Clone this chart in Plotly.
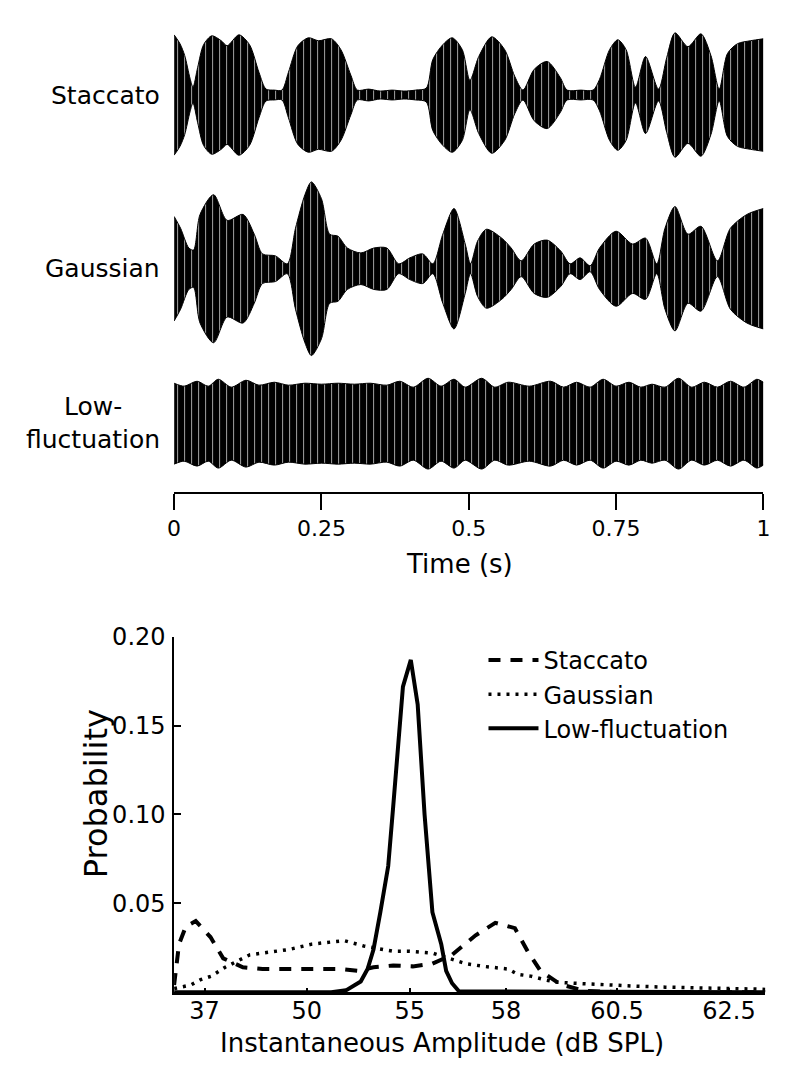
import plotly.graph_objects as go

# page is 800x1085; default body margin is 8px, so the figure is 784x1069
PAGE_W, PAGE_H = 800, 1085
FW, FH = PAGE_W - 16, PAGE_H - 16

# ---------------- Top panel: envelopes (arbitrary amplitude units)
st_t = [0.000, 0.010, 0.018, 0.027, 0.032, 0.040, 0.050, 0.064, 0.080, 0.090, 0.110, 0.128, 0.144, 0.156,
        0.170, 0.183, 0.194, 0.210, 0.228, 0.245, 0.267, 0.283, 0.300, 0.311, 0.330, 0.350, 0.370, 0.390,
        0.410, 0.428, 0.439, 0.456, 0.472, 0.489, 0.502, 0.517, 0.539, 0.561, 0.578, 0.592, 0.611, 0.633,
        0.655, 0.667, 0.690, 0.711, 0.722, 0.739, 0.753, 0.767, 0.783, 0.800, 0.822, 0.836, 0.850, 0.872,
        0.894, 0.911, 0.925, 0.939, 0.956, 0.978, 1.000]
st_a = [61, 52, 40, 17, 8, 28, 51, 60, 55, 50, 61, 51, 23, 6,
        5, 5, 23, 50, 58, 55, 57, 46, 20, 5, 6, 4, 5, 4,
        5, 7, 36, 51, 58, 46, 15, 39, 59, 46, 19, 5, 26, 34,
        18, 5, 5, 5, 16, 46, 56, 46, 8, 39, 6, 38, 63, 49,
        62, 40, 6, 42, 52, 55, 57]

ga_t = [0.000, 0.011, 0.025, 0.033, 0.044, 0.067, 0.090, 0.117, 0.136, 0.150, 0.172, 0.192, 0.206, 0.222,
        0.233, 0.250, 0.264, 0.278, 0.294, 0.317, 0.339, 0.361, 0.381, 0.400, 0.422, 0.439, 0.456, 0.475,
        0.494, 0.503, 0.515, 0.530, 0.556, 0.572, 0.589, 0.611, 0.633, 0.656, 0.672, 0.689, 0.706, 0.722,
        0.750, 0.778, 0.800, 0.819, 0.833, 0.850, 0.872, 0.894, 0.922, 0.944, 0.972, 1.000]
ga_a = [53, 41, 21, 19, 55, 75, 49, 55, 35, 15, 13, 5, 41, 75,
        88, 71, 35, 33, 21, 16, 21, 21, 5, 11, 15, 5, 35, 61,
        25, 5, 28, 40, 31, 21, 8, 25, 29, 18, 5, 11, 3, 21,
        38, 25, 31, 5, 41, 63, 35, 43, 8, 41, 55, 61]

lf_t = [0.000, 0.017, 0.039, 0.058, 0.075, 0.097, 0.122, 0.144, 0.170, 0.194, 0.222, 0.250, 0.278, 0.306,
        0.333, 0.361, 0.383, 0.406, 0.431, 0.453, 0.475, 0.494, 0.522, 0.544, 0.567, 0.603, 0.639, 0.661,
        0.683, 0.706, 0.728, 0.750, 0.772, 0.792, 0.811, 0.833, 0.856, 0.878, 0.900, 0.922, 0.944, 0.967,
        0.989, 1.000]
lf_a = [41, 38, 43, 38, 45, 37, 44, 39, 42, 39, 41, 40, 41, 40,
        41, 39, 43, 37, 46, 38, 45, 37, 46, 37, 42, 38, 43, 37,
        42, 37, 45, 38, 42, 37, 40, 37, 46, 37, 42, 37, 43, 37,
        45, 42]

wave_names = ["Staccato", "Gaussian", "Low-<br>fluctuation"]
time_ticks = [0, 0.25, 0.5, 0.75, 1]
time_labels = ["0", "0.25", "0.5", "0.75", "1"]

# ---------------- Bottom panel: amplitude distributions (x in bin-position units)
amp_tick_pos = [3.1, 13.5, 24.0, 33.8, 45.1, 56.5]
amp_tick_labels = ["37", "50", "55", "58", "60.5", "62.5"]
prob_ticks = [0.05, 0.10, 0.15, 0.20]
prob_labels = ["0.05", "0.10", "0.15", "0.20"]

stac_x = [0, 0.5, 1.2, 2.2, 3.7, 5.0, 7.0, 9.0, 13.0, 17.0, 18.7, 20.3, 22.3, 24.3, 26.3, 28.3,
          30.7, 32.7, 34.7, 36.0, 37.3, 39.3, 41.7, 45.0, 60.2]
stac_p = [0.004, 0.027, 0.037, 0.040, 0.031, 0.019, 0.014, 0.013, 0.013, 0.013, 0.012, 0.014, 0.015,
          0.0145, 0.016, 0.021, 0.032, 0.039, 0.036, 0.023, 0.012, 0.0045, 0.0008, 0.0, 0.0]

gaus_x = [0, 0.7, 1.7, 2.7, 3.8, 5.2, 7.7, 11.7, 14.0, 17.3, 19.3, 22.3, 24.0, 26.3, 29.7, 31.5, 34.0,
          35.0, 36.3, 37.7, 39.0, 40.7, 42.7, 45.0, 47.3, 50.0, 53.3, 56.7, 59.3, 60.2]
gaus_p = [0.002, 0.003, 0.004, 0.007, 0.009, 0.014, 0.021, 0.024, 0.027, 0.029, 0.026, 0.023, 0.023,
          0.022, 0.016, 0.0145, 0.013, 0.010, 0.009, 0.007, 0.0056, 0.005, 0.0044, 0.0039, 0.0033,
          0.0028, 0.0022, 0.002, 0.0017, 0.0015]

lowf_x = [0, 16.0, 17.5, 19.0, 19.7, 20.3, 21.0, 21.8, 22.3, 23.3, 24.1, 24.8, 25.5, 26.3, 27.2,
          27.7, 28.3, 29.0, 60.2]
lowf_p = [0, 0, 0.001, 0.006, 0.013, 0.024, 0.045, 0.071, 0.104, 0.172, 0.187, 0.162, 0.100, 0.045,
          0.027, 0.012, 0.005, 0.0005, 0]

FONT = "DejaVu Sans"


def px_x(x):
    return (x - 8) / FW


def px_y(y):
    return 1 - (y - 8) / FH


fig = go.Figure()

waves = [(st_t, st_a, "x", "y"), (ga_t, ga_a, "x2", "y2"), (lf_t, lf_a, "x3", "y3")]
for t, a, xa, ya in waves:
    edge = dict(color="black", width=1, shape="spline", smoothing=0.8)
    fig.add_trace(go.Scatter(x=t, y=[-v for v in a], mode="lines", line=edge,
                             xaxis=xa, yaxis=ya, showlegend=False, hoverinfo="skip"))
    fig.add_trace(go.Scatter(x=t, y=a, mode="lines", line=edge, fill="tonexty",
                             fillcolor="black",
                             fillpattern=dict(shape="|", fgcolor="#d4d4d4", bgcolor="black",
                                              size=7, solidity=0.11, fillmode="replace"),
                             xaxis=xa, yaxis=ya, showlegend=False, hoverinfo="skip"))

fig.add_trace(go.Scatter(x=stac_x, y=stac_p, mode="lines", name="Staccato",
                         line=dict(color="black", width=4, dash="12px,10px"),
                         xaxis="x4", yaxis="y4"))
fig.add_trace(go.Scatter(x=gaus_x, y=gaus_p, mode="lines", name="Gaussian",
                         line=dict(color="black", width=3.5, dash="3px,6px"),
                         xaxis="x4", yaxis="y4"))
fig.add_trace(go.Scatter(x=lowf_x, y=lowf_p, mode="lines", name="Low-fluctuation",
                         line=dict(color="black", width=4),
                         xaxis="x4", yaxis="y4"))

top_dom = [px_x(170), px_x(770)]
hidden = dict(visible=False, showgrid=False, zeroline=False)

annotations = []
for name, yc in zip(wave_names, [82, 258, 414]):
    annotations.append(dict(text=name, x=px_x(158), y=px_y(yc), xref="paper", yref="paper",
                            xanchor="right", yanchor="middle", align="center", showarrow=False,
                            font=dict(family=FONT, size=25, color="black")))
annotations.append(dict(text="Time (s)", x=px_x(461), y=px_y(557), xref="paper", yref="paper",
                        xanchor="center", yanchor="middle", showarrow=False,
                        font=dict(family=FONT, size=26, color="black")))
annotations.append(dict(text="Probability", x=px_x(90), y=px_y(790), xref="paper", yref="paper",
                        xanchor="center", yanchor="middle", textangle=-90, showarrow=False,
                        font=dict(family=FONT, size=32, color="black")))
annotations.append(dict(text="Instantaneous Amplitude (dB SPL)", x=px_x(443), y=px_y(1043),
                        xref="paper", yref="paper", xanchor="center", yanchor="middle",
                        showarrow=False, font=dict(family=FONT, size=26, color="black")))

fig.update_layout(
    width=FW, height=FH,
    margin=dict(l=0, r=0, t=0, b=0),
    paper_bgcolor="white", plot_bgcolor="white",
    font=dict(family=FONT, color="black"),
    hovermode=False,
    xaxis=dict(domain=top_dom, range=[0, 1], anchor="y", **hidden),
    yaxis=dict(domain=[px_y(152), px_y(12)], range=[-70, 70], anchor="x", **hidden),
    xaxis2=dict(domain=top_dom, range=[0, 1], anchor="y2", **hidden),
    yaxis2=dict(domain=[px_y(350), px_y(166)], range=[-92, 92], anchor="x2", **hidden),
    xaxis3=dict(domain=top_dom, range=[0, 1], anchor="free", position=px_y(485),
                showline=True, linewidth=2, linecolor="black", ticks="outside", ticklen=16,
                tickwidth=1.5, tickcolor="black", tickvals=time_ticks, ticktext=time_labels,
                tickfont=dict(family=FONT, size=22, color="black"),
                showgrid=False, zeroline=False),
    yaxis3=dict(domain=[px_y(465), px_y(365)], range=[-50, 50], anchor="x3", **hidden),
    xaxis4=dict(domain=[px_x(170), px_x(772)], range=[0, 60.2], anchor="y4",
                showline=True, linewidth=2.5, linecolor="black", ticks="inside", ticklen=4,
                tickwidth=1.5, tickcolor="black", tickvals=amp_tick_pos, ticktext=amp_tick_labels,
                tickfont=dict(family=FONT, size=24, color="black"), ticklabelstandoff=-5,
                showgrid=False, zeroline=False),
    yaxis4=dict(domain=[px_y(991), px_y(631)], range=[0, 0.2], anchor="x4",
                showline=True, linewidth=1.5, linecolor="black", ticks="inside", ticklen=7,
                tickwidth=1.5, tickcolor="black", tickvals=prob_ticks, ticktext=prob_labels,
                tickfont=dict(family=FONT, size=24, color="black"), ticklabelstandoff=2,
                showgrid=False, zeroline=False),
    legend=dict(x=px_x(485), y=px_y(632), xanchor="left", yanchor="top",
                bgcolor="rgba(0,0,0,0)", font=dict(family=FONT, size=24, color="black"),
                itemwidth=50, tracegroupgap=0, traceorder="normal"),
    annotations=annotations,
)

fig.write_html("out.html", config={"displayModeBar": False})
